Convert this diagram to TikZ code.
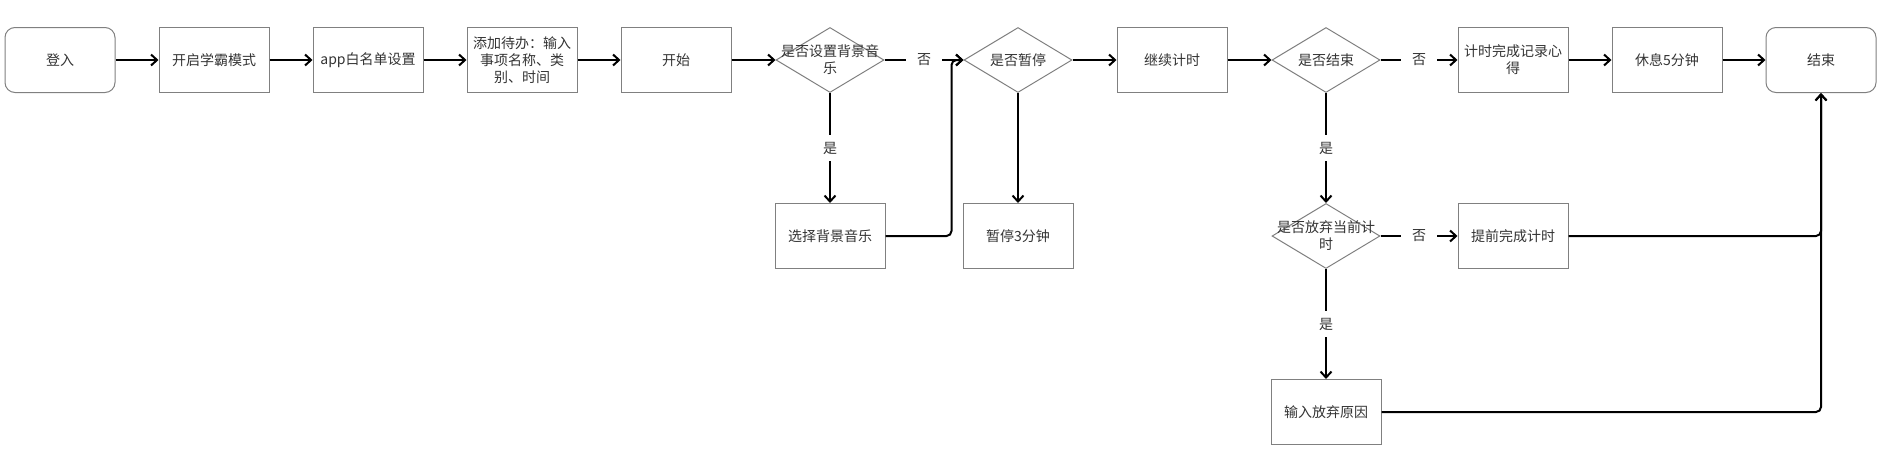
\documentclass[tikz,border=0pt]{standalone}
\usepackage{fontspec}
\setmainfont{Noto Sans CJK SC}
\usetikzlibrary{shapes.geometric,arrows.meta}

\begin{document}
\begin{tikzpicture}[x=1pt,y=1pt,node distance=154pt,>={Straight Barb[length=6pt,width=11pt]},
  every node/.style={font=\fontsize{14}{17}\selectfont,text=black!80},
  box/.style={rectangle,draw=gray,line width=1pt,minimum width=110pt,minimum height=65pt,text width=100pt,align=center,inner sep=0pt},
  term/.style={box,rounded corners=10pt},
  cond/.style={diamond,draw=gray,line width=1pt,minimum width=108pt,minimum height=65pt,inner sep=0pt},
  condtext/.style={text width=112pt,align=center,inner sep=0pt},
  flow/.style={->,line width=2pt,draw=black},
  tag/.style={fill=white,inner xsep=11pt,inner ysep=7pt}]

\useasboundingbox (0,0) rectangle (1888,-458);

\node[term] (login) at (60,-60) {登入};
\node[box,right of=login] (study) {开启学霸模式};
\node[box,right of=study] (white) {app白名单设置};
\node[box,right of=white] (todo) {添加待办：输入\\事项名称、类\\别、时间};
\node[box,right of=todo] (start) {开始};
\node[cond,right of=start,label={[condtext]center:{是否设置背景音\\乐}}] (music) {};
\node[cond,right of=music,xshift=34pt,label={[condtext]center:是否暂停}] (pause) {};
\node[box,right of=pause] (goon) {继续计时};
\node[cond,right of=goon,label={[condtext]center:是否结束}] (over) {};
\node[box,right of=over,xshift=33pt] (record) {计时完成记录心\\得};
\node[box,right of=record] (rest) {休息5分钟};
\node[term,right of=rest] (finish) {结束};

\node[box,below of=music,yshift=-22pt] (choose) {选择背景音乐};
\node[box,below of=pause,yshift=-22pt] (pause3) {暂停3分钟};
\node[cond,below of=over,yshift=-22pt,label={[condtext]center:{是否放弃当前计\\时}}] (abandon) {};
\node[box,right of=abandon,xshift=33pt] (early) {提前完成计时};
\node[box,below of=abandon,yshift=-22pt] (reason) {输入放弃原因};

\draw[flow] (login) -- (study);
\draw[flow] (study) -- (white);
\draw[flow] (white) -- (todo);
\draw[flow] (todo) -- (start);
\draw[flow] (start) -- (music);
\draw[flow] (music) -- node[tag] {否} (pause);
\draw[flow] (music) -- node[tag] {是} (choose);
\draw[flow,rounded corners=5pt] (choose.east) -| ([xshift=-12pt]pause.west) -- (pause.west);
\draw[flow] (pause) -- (goon);
\draw[flow] (pause) -- (pause3);
\draw[flow] (goon) -- (over);
\draw[flow] (over) -- node[tag] {否} (record);
\draw[flow] (over) -- node[tag] {是} (abandon);
\draw[flow] (record) -- (rest);
\draw[flow] (rest) -- (finish);
\draw[flow] (abandon) -- node[tag] {否} (early);
\draw[flow] (abandon) -- node[tag] {是} (reason);
\draw[flow,rounded corners=5pt] (early) -| (finish);
\draw[flow,rounded corners=5pt] (reason) -| (finish);

\end{tikzpicture}
\end{document}
